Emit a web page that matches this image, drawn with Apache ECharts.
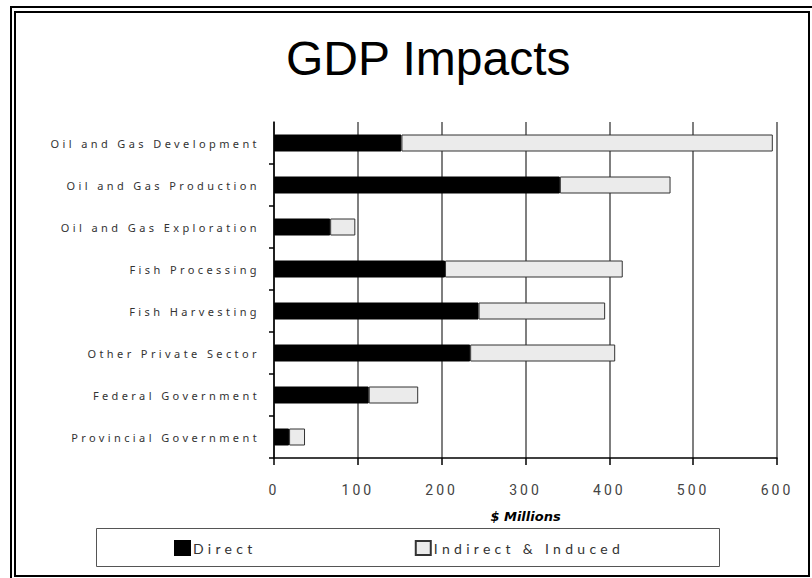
<!DOCTYPE html>
<html>
<head>
<meta charset="utf-8">
<script src="https://cdn.jsdelivr.net/npm/echarts@6/dist/echarts.min.js"></script>
<style>
  html, body { margin: 0; padding: 0; background: #fff; }
  #chart { width: 812px; height: 578px; }
  /* the original uses widely spaced letters for axis and legend text */
  #chart text[style*="Noto Sans"], #chart text[font-family*="Noto Sans"] { letter-spacing: 3.4px; }
  #chart text[style*="Roboto"], #chart text[font-family*="Roboto"] { letter-spacing: 3px; }
  #chart text[style*="Lato"], #chart text[font-family*="Lato"] { letter-spacing: 4.3px; }
</style>
</head>
<body>
<div id="chart"></div>
<script>
  // categories, top to bottom
  var categories = [
    'Oil and Gas Development',
    'Oil and Gas Production',
    'Oil and Gas Exploration',
    'Fish Processing',
    'Fish Harvesting',
    'Other Private Sector',
    'Federal Government',
    'Provincial Government'
  ];
  // $ millions
  var direct = [152, 341, 67, 204, 244, 234, 113, 18];
  var indirectInduced = [443, 132, 30, 212, 151, 173, 59, 19];
  var seriesNames = ['Direct', 'Indirect & Induced'];
  var xTicks = { min: 0, max: 600, interval: 100 };

  var chart = echarts.init(document.getElementById('chart'), null, { renderer: 'svg' });

  var option = {
    animation: false,
    backgroundColor: '#fff',
    title: {
      text: 'GDP Impacts',
      left: 286,
      top: 34,
      padding: 0,
      textStyle: {
        fontFamily: 'Liberation Sans',
        fontSize: 48,
        fontWeight: 'normal',
        color: '#000'
      }
    },
    legend: {
      data: seriesNames,
      left: 174,
      top: 540,
      padding: 0,
      itemWidth: 15,
      itemHeight: 14,
      itemGap: 184,
      icon: 'rect',
      textStyle: {
        fontFamily: 'Lato',
        fontSize: 14,
        color: '#333',
        padding: [0, 0, 0, -2]
      }
    },
    grid: {
      left: 274,
      right: 35,
      top: 122,
      bottom: 120,
      containLabel: false,
      outerBoundsMode: 'none'
    },
    xAxis: {
      type: 'value',
      min: xTicks.min,
      max: xTicks.max,
      interval: xTicks.interval,
      name: '$ Millions',
      nameLocation: 'middle',
      nameGap: 52,
      nameTextStyle: {
        fontFamily: 'DejaVu Sans',
        fontSize: 13,
        fontWeight: 'bold',
        fontStyle: 'italic',
        color: '#000'
      },
      axisLine: { show: true, lineStyle: { color: '#000', width: 1.5 } },
      axisTick: { show: true, length: 7, lineStyle: { color: '#000', width: 1.5 } },
      axisLabel: {
        margin: 25,
        fontFamily: 'Roboto',
        fontSize: 14,
        color: '#444'
      },
      splitLine: { show: true, lineStyle: { color: '#555', width: 1.5 } }
    },
    yAxis: {
      type: 'category',
      inverse: true,
      data: categories,
      axisLine: { show: true, lineStyle: { color: '#000', width: 1.5 } },
      axisTick: {
        show: true,
        length: 5,
        alignWithLabel: false,
        interval: function(index) {
          return index !== 0;
        },
        lineStyle: { color: '#000', width: 1.5 }
      },
      axisLabel: {
        margin: 14,
        fontFamily: 'Noto Sans',
        fontSize: 11,
        color: '#333',
        padding: [0, 0, 6, 0]
      },
      splitLine: { show: false }
    },
    series: [
      {
        name: seriesNames[0],
        type: 'bar',
        stack: 'total',
        barWidth: 17,
        data: direct,
        itemStyle: { color: '#000', borderColor: '#000', borderWidth: 1 }
      },
      {
        name: seriesNames[1],
        type: 'bar',
        stack: 'total',
        barWidth: 17,
        data: indirectInduced,
        itemStyle: { color: '#ebebeb', borderColor: '#333', borderWidth: 1 }
      }
    ],
    graphic: [
      // double frame round the slide
      {
        type: 'polyline',
        shape: { points: [[11, 578], [11, 7], [812, 7]] },
        style: { stroke: '#000', lineWidth: 2, fill: null },
        silent: true
      },
      {
        type: 'rect',
        shape: { x: 15, y: 12, width: 794, height: 564 },
        style: { stroke: '#000', lineWidth: 2, fill: null },
        silent: true
      },
      // legend box
      {
        type: 'rect',
        shape: { x: 96.5, y: 528.5, width: 623, height: 38 },
        style: { stroke: '#555', lineWidth: 1, fill: null },
        silent: true
      }
    ]
  };

  chart.setOption(option);
</script>
</body>
</html>
